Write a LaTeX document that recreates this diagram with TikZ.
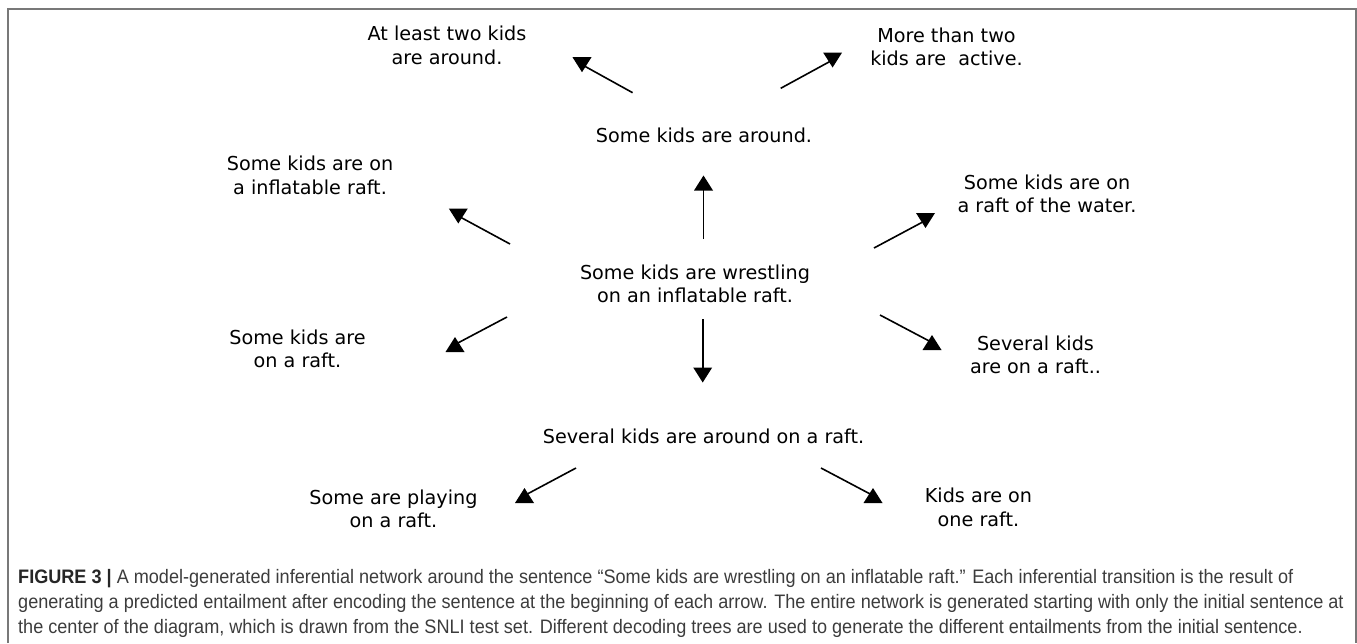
\documentclass[tikz,border=0pt]{standalone}
\usepackage{fontspec}
\setmainfont{DejaVu Sans}
\newfontfamily\capfont[FakeStretch=0.928]{Liberation Sans}
\definecolor{framegray}{RGB}{120,120,120}
\definecolor{capgray}{RGB}{60,60,60}
\tikzset{
  lbl/.style={anchor=base, align=center, inner sep=0pt, font=\fontsize{19.2}{23.7}\selectfont},
  conn/.style={line width=1.6pt, black},
  dnhead/.pic={\fill[black] (-9.5,-7.5) -- (9.5,-7.5) -- (0,7.5) -- cycle;},
  uphead/.pic={\fill[black] (-9.5,7.5) -- (9.5,7.5) -- (0,-7.5) -- cycle;},
  capline/.style={anchor=base west, inner sep=0pt, text=capgray, font=\capfont\fontsize{19.5}{25}\selectfont}
}
\begin{document}
\begin{tikzpicture}[x=1pt,y=-1pt]
\useasboundingbox (0,0) rectangle (1357,643);
% frame
\draw[framegray, line width=2pt] (7.5,643) -- (7.5,9) -- (1355.5,9) -- (1355.5,643);

% text nodes (anchor base = baseline of the last line)
\node[lbl] (least) at (447,64.4) {At least two kids\\are around.};
\node[lbl] (more) at (946.5,65.7) {More than two\\kids are\ \ active.};
\node[lbl] (around) at (704,142.7) {Some kids are around.};
\node[lbl] (inflat) at (310,194.4) {Some kids are on\\a inflatable raft.};
\node[lbl] (water) at (1047,212.7) {Some kids are on\\a raft of the water.};
\node[lbl] (wrest) at (695,302.7) {Some kids are wrestling\\on an inflatable raft.};
\node[lbl] (raft) at (297.5,367.7) {Some kids are\\on a raft.};
\node[lbl] (several) at (1035.5,373.7) {Several kids\\are on a raft..};
\node[lbl] (sevaround) at (703.5,443) {Several kids are around on a raft.};
\node[lbl] (playing) at (393.5,527.7) {Some are playing\\on a raft.};
\node[lbl] (one) at (978.5,526) {Kids are on\\one raft.};

% connector end points
\coordinate (t1) at (632.6,92.7);  \coordinate (h1) at (582,64.7);
\coordinate (t2) at (780.7,88.3);  \coordinate (h2) at (832.6,60);
\coordinate (t3) at (703.5,239);   \coordinate (h3) at (703.5,183);
\coordinate (t4) at (510,244);     \coordinate (h4) at (458.3,216);
\coordinate (t5) at (874,248);     \coordinate (h5) at (925.5,220.5);
\coordinate (t6) at (507,317);     \coordinate (h6) at (455,344.5);
\coordinate (t7) at (880,315);     \coordinate (h7) at (932,342.5);
\coordinate (t8) at (702.7,319);   \coordinate (h8) at (702.7,375);
\coordinate (t9) at (576,468);     \coordinate (h9) at (524.5,495.5);
\coordinate (t10) at (821,468);    \coordinate (h10) at (873,495.5);

% connectors
\foreach \i in {1,...,10} { \draw[conn] (t\i) -- (h\i); }
\foreach \i in {1,2,4,5,8} { \pic at (h\i) {dnhead}; }
\foreach \i in {3,6,7,9,10} { \pic at (h\i) {uphead}; }

% caption
\node[capline] (cap1) at (18,583) {\textbf{\color{black!85}FIGURE 3 |} A model-generated inferential network around the sentence “Some kids are wrestling on an inflatable raft.” Each inferential transition is the result of};
\node[capline] (cap2) at (18,608) {generating a predicted entailment after encoding the sentence at the beginning of each arrow. The entire network is generated starting with only the initial sentence at};
\node[capline] (cap3) at (18,633) {the center of the diagram, which is drawn from the SNLI test set. Different decoding trees are used to generate the different entailments from the initial sentence.};
\end{tikzpicture}
\end{document}
